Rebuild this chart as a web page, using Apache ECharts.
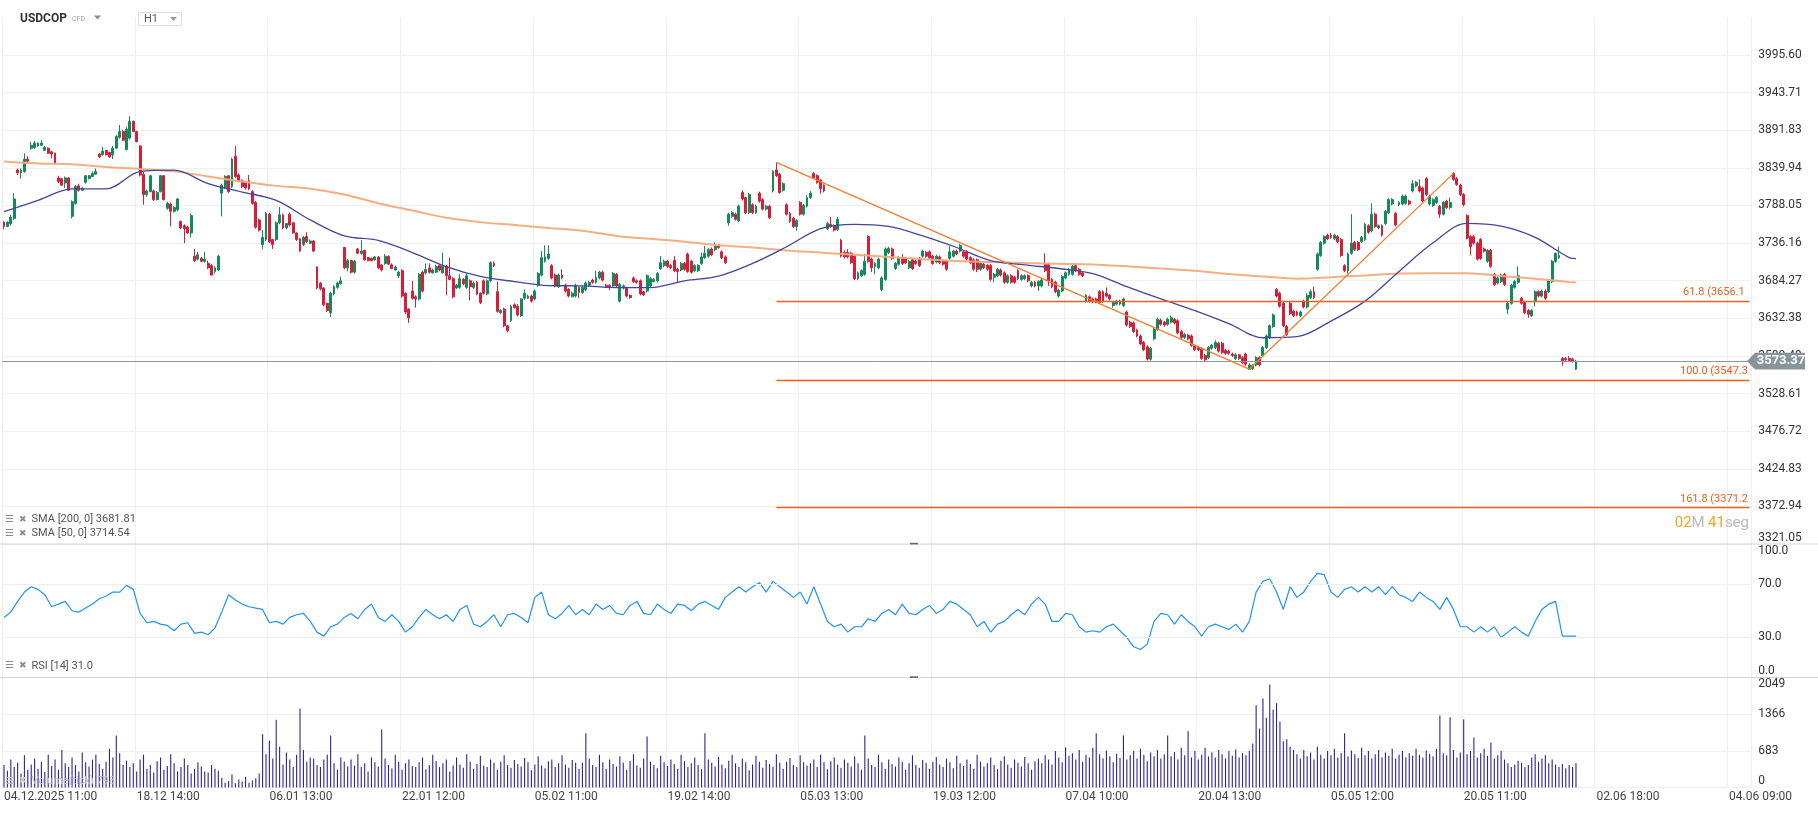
<!DOCTYPE html>
<html>
<head>
<meta charset="utf-8">
<script src="https://cdn.jsdelivr.net/npm/echarts@6/dist/echarts.min.js"></script>
<style>
  html, body { margin: 0; padding: 0; background: #fff; }
  #chart { width: 1818px; height: 813px; }
</style>
</head>
<body>
<div id="chart"></div>
<script>
// USDCOP CFD, H1 - candles with SMA 200 / SMA 50, fib drawing, RSI 14 and tick volume
const tickLabels = ['04.12.2025 11:00', '18.12 14:00', '06.01 13:00', '22.01 12:00', '05.02 11:00', '19.02 14:00',
  '05.03 13:00', '19.03 12:00', '07.04 10:00', '20.04 13:00', '05.05 12:00', '20.05 11:00', '02.06 18:00', '04.06 09:00'];
const priceTicks = ['3321.05', '3372.94', '3424.83', '3476.72', '3528.61', '3580.49', '3632.38', '3684.27',
  '3736.16', '3788.05', '3839.94', '3891.83', '3943.71', '3995.60'];

const open = [
  3765,3759,3763,3770,3837,3833,3835,3852,3867,3868, 3870,3871,3864,3867,3862,3860,3826,3825,3819,3826,
  3773,3791,3815,3809,3820,3825,3828,3831,3859,3858, 3864,3861,3858,3867,3882,3890,3865,3881,3904,3890,
  3870,3831,3803,3807,3808,3796,3807,3829,3784,3790, 3780,3782,3766,3760,3758,3750,3718,3714,3715,3711,
  3708,3705,3697,3699,3805,3813,3829,3814,3856,3830, 3822,3820,3822,3807,3792,3768,3734,3741,3776,3741,
  3741,3764,3775,3757,3776,3764,3750,3742,3734,3745, 3736,3739,3703,3681,3674,3653,3640,3666,3675,3680,
  3730,3702,3712,3696,3728,3722,3726,3716,3715,3713, 3717,3706,3708,3718,3706,3699,3691,3698,3667,3645,
  3670,3662,3659,3696,3695,3702,3695,3696,3705,3695, 3704,3691,3687,3674,3675,3686,3675,3684,3675,3682,
  3667,3684,3666,3684,3708,3669,3640,3645,3622,3629, 3651,3649,3636,3660,3660,3663,3659,3678,3692,3711,
  3715,3705,3692,3676,3692,3678,3672,3662,3663,3675, 3668,3672,3678,3685,3682,3688,3696,3678,3678,3677,
  3693,3656,3674,3674,3664,3688,3684,3684,3669,3670, 3677,3683,3684,3701,3705,3711,3705,3712,3700,3699,
  3708,3721,3711,3698,3698,3708,3716,3718,3728,3727, 3733,3724,3717,3764,3773,3776,3767,3806,3799,3778,
  3789,3778,3805,3796,3783,3787,3808,3837,3831,3809, 3789,3777,3770,3759,3792,3776,3787,3799,3832,3829,
  3823,3816,3756,3762,3760,3755,3740,3723,3723,3722, 3718,3687,3691,3693,3745,3714,3704,3702,3672,3686,
  3723,3728,3701,3707,3716,3715,3702,3713,3711,3715, 3718,3723,3724,3718,3710,3717,3711,3711,3715,3718,
  3725,3725,3724,3724,3716,3713,3713,3700,3707,3705, 3705,3689,3691,3699,3695,3682,3691,3689,3698,3686,
  3687,3691,3677,3682,3677,3677,3707,3707,3686,3682, 3663,3670,3688,3693,3693,3705,3700,3695,3656,3662,
  3659,3659,3669,3669,3667,3664,3650,3652,3656,3650, 3641,3627,3626,3616,3608,3599,3593,3576,3604,3617,
  3630,3627,3624,3627,3631,3629,3614,3606,3609,3608, 3594,3592,3590,3581,3578,3591,3592,3598,3598,3588,
  3587,3583,3577,3582,3578,3583,3562,3563,3568,3578, 3581,3592,3606,3621,3672,3667,3653,3621,3653,3642,
  3641,3636,3656,3648,3661,3669,3700,3719,3736,3747, 3747,3742,3745,3741,3705,3698,3722,3737,3737,3738,
  3741,3760,3753,3776,3757,3760,3763,3778,3790,3777, 3789,3790,3791,3794,3808,3815,3814,3812,3825,3790,
  3788,3792,3787,3776,3794,3785,3832,3825,3816,3803, 3774,3745,3745,3736,3741,3728,3711,3726,3693,3681,
  3683,3693,3645,3653,3675,3682,3660,3654,3643,3636, 3656,3669,3663,3670,3669,3683,3711,3716,3577,3577,
  3577,3576,3562
];
const high = [
  3766,3766,3775,3805,3839,3839,3860,3856,3876,3877, 3875,3878,3870,3868,3863,3861,3829,3826,3828,3827,
  3795,3816,3818,3813,3830,3830,3835,3839,3860,3869, 3865,3862,3870,3885,3899,3892,3896,3911,3905,3891,
  3871,3834,3810,3830,3810,3808,3830,3830,3793,3792, 3787,3798,3767,3762,3760,3777,3728,3724,3717,3724,
  3712,3707,3704,3720,3818,3830,3830,3854,3870,3832, 3824,3822,3830,3809,3794,3770,3754,3779,3778,3742,
  3766,3786,3777,3764,3778,3765,3751,3743,3746,3751, 3741,3740,3704,3682,3675,3654,3669,3678,3683,3690,
  3731,3714,3713,3713,3729,3740,3727,3717,3716,3718, 3718,3707,3721,3719,3708,3705,3698,3700,3668,3646,
  3684,3664,3695,3698,3708,3708,3701,3706,3707,3723, 3706,3716,3689,3680,3693,3688,3695,3686,3683,3684,
  3668,3686,3686,3711,3711,3683,3645,3647,3623,3651, 3653,3652,3660,3672,3665,3665,3672,3696,3725,3733,
  3733,3707,3694,3694,3700,3680,3674,3669,3680,3676, 3677,3683,3684,3687,3698,3698,3698,3680,3679,3696,
  3695,3681,3679,3676,3665,3690,3686,3686,3670,3693, 3689,3688,3696,3718,3713,3713,3707,3718,3702,3710,
  3710,3723,3713,3707,3707,3723,3732,3729,3730,3737, 3735,3726,3719,3778,3780,3778,3789,3809,3800,3805,
  3791,3789,3807,3798,3789,3789,3837,3847,3833,3820, 3791,3779,3772,3769,3794,3790,3802,3808,3834,3831,
  3825,3817,3765,3772,3762,3772,3742,3726,3728,3724, 3720,3697,3700,3721,3747,3716,3710,3716,3690,3730,
  3731,3730,3710,3718,3721,3717,3713,3715,3713,3717, 3727,3725,3726,3720,3720,3719,3713,3713,3732,3727,
  3727,3735,3726,3726,3718,3715,3715,3710,3709,3707, 3707,3695,3702,3701,3697,3693,3693,3691,3700,3693,
  3693,3693,3684,3684,3685,3687,3722,3709,3688,3684, 3673,3692,3697,3702,3706,3708,3702,3697,3666,3664,
  3661,3661,3671,3671,3675,3666,3656,3658,3658,3661, 3643,3629,3628,3618,3610,3601,3595,3593,3619,3633,
  3632,3629,3633,3636,3633,3631,3616,3612,3611,3610, 3596,3594,3592,3583,3594,3597,3602,3600,3600,3590,
  3589,3585,3584,3583,3580,3585,3570,3569,3580,3580, 3594,3610,3624,3639,3674,3669,3655,3623,3655,3644,
  3643,3643,3658,3667,3672,3676,3723,3739,3747,3749, 3750,3749,3747,3743,3707,3723,3776,3739,3739,3746,
  3764,3762,3791,3778,3762,3762,3782,3798,3798,3779, 3794,3803,3803,3796,3823,3822,3824,3814,3827,3803,
  3798,3801,3789,3794,3796,3799,3834,3827,3818,3805, 3776,3747,3747,3738,3743,3730,3728,3728,3695,3690,
  3694,3695,3655,3680,3685,3704,3662,3656,3645,3645, 3671,3671,3672,3672,3686,3713,3723,3731,3579,3579,
  3580,3578,3575
];
const low = [
  3755,3758,3760,3768,3830,3825,3833,3848,3865,3866, 3869,3870,3863,3859,3853,3845,3819,3815,3812,3808,
  3770,3789,3807,3808,3818,3824,3827,3830,3853,3857, 3857,3854,3852,3866,3880,3877,3864,3879,3889,3875,
  3828,3789,3800,3806,3794,3795,3806,3795,3782,3759, 3778,3780,3755,3736,3749,3744,3710,3712,3710,3709,
  3700,3691,3694,3698,3773,3811,3805,3812,3826,3820, 3812,3810,3809,3789,3756,3752,3728,3739,3736,3728,
  3739,3762,3755,3755,3759,3749,3739,3724,3732,3736, 3735,3724,3672,3671,3649,3641,3634,3664,3673,3679,
  3700,3697,3694,3694,3721,3720,3712,3711,3711,3712, 3700,3697,3706,3706,3700,3698,3688,3661,3638,3626,
  3658,3647,3657,3668,3693,3694,3694,3695,3697,3694, 3664,3685,3660,3673,3673,3678,3673,3657,3673,3664,
  3652,3665,3664,3682,3703,3640,3638,3620,3613,3627, 3646,3635,3634,3658,3659,3654,3657,3676,3690,3709,
  3713,3686,3675,3674,3686,3668,3661,3661,3661,3660, 3666,3670,3676,3680,3680,3686,3683,3674,3671,3675,
  3675,3654,3672,3661,3659,3681,3680,3664,3663,3668, 3675,3682,3682,3699,3703,3702,3700,3696,3681,3697,
  3698,3695,3694,3696,3696,3706,3714,3716,3718,3725, 3728,3714,3707,3760,3771,3767,3765,3795,3776,3776,
  3776,3776,3792,3781,3781,3769,3806,3827,3804,3807, 3774,3764,3757,3753,3774,3774,3785,3797,3825,3818,
  3804,3806,3754,3757,3752,3753,3716,3715,3715,3707, 3685,3685,3689,3691,3709,3696,3693,3700,3670,3684,
  3721,3713,3699,3705,3706,3707,3700,3699,3706,3703, 3716,3716,3714,3706,3708,3707,3705,3698,3713,3716,
  3719,3723,3716,3712,3707,3698,3696,3698,3700,3698, 3684,3682,3689,3690,3680,3680,3680,3680,3685,3684,
  3685,3682,3675,3675,3670,3675,3696,3677,3674,3667, 3661,3668,3686,3691,3691,3696,3691,3689,3654,3654,
  3653,3653,3652,3654,3661,3657,3647,3650,3650,3648, 3621,3619,3612,3606,3595,3587,3574,3574,3602,3615,
  3622,3621,3622,3625,3624,3610,3604,3604,3602,3593, 3587,3587,3575,3573,3576,3589,3590,3585,3583,3582,
  3582,3579,3575,3575,3569,3567,3561,3561,3566,3566, 3579,3590,3604,3619,3661,3647,3620,3608,3637,3634,
  3635,3634,3646,3646,3659,3659,3698,3717,3734,3740, 3742,3740,3736,3717,3696,3694,3720,3725,3725,3736,
  3739,3749,3751,3757,3755,3745,3761,3776,3788,3759, 3787,3788,3789,3788,3806,3813,3806,3792,3801,3788,
  3786,3790,3771,3774,3783,3783,3822,3815,3801,3787, 3741,3719,3734,3712,3713,3723,3709,3702,3677,3679,
  3681,3677,3638,3651,3673,3680,3651,3638,3633,3634, 3649,3661,3661,3658,3667,3681,3709,3714,3567,3573,
  3572,3571,3561
];
const close = [
  3759,3765,3772,3797,3833,3837,3852,3849,3871,3874, 3874,3874,3868,3860,3859,3846,3821,3816,3826,3809,
  3793,3814,3809,3812,3829,3829,3832,3835,3855,3863, 3858,3855,3867,3883,3890,3878,3893,3904,3890,3876,
  3830,3803,3808,3829,3796,3806,3829,3796,3791,3780, 3785,3797,3757,3756,3750,3774,3712,3720,3711,3714,
  3702,3692,3702,3718,3816,3828,3807,3852,3828,3822, 3814,3812,3811,3791,3758,3754,3744,3777,3738,3734,
  3764,3775,3757,3763,3761,3750,3741,3725,3744,3738, 3739,3725,3674,3673,3651,3643,3667,3676,3681,3684,
  3702,3712,3696,3711,3722,3725,3713,3712,3712,3717, 3702,3699,3718,3707,3701,3703,3696,3663,3641,3633,
  3660,3659,3693,3670,3700,3696,3699,3704,3699,3704, 3691,3686,3662,3678,3687,3680,3691,3676,3681,3666,
  3654,3667,3684,3709,3705,3642,3643,3622,3615,3649, 3647,3637,3659,3667,3663,3656,3670,3694,3716,3717,
  3721,3688,3677,3692,3688,3670,3663,3667,3678,3668, 3675,3681,3682,3682,3689,3696,3685,3676,3676,3694,
  3677,3679,3677,3663,3661,3683,3682,3666,3665,3691, 3687,3686,3694,3709,3711,3704,3702,3698,3697,3708,
  3700,3697,3696,3705,3705,3717,3722,3727,3720,3732, 3730,3716,3709,3776,3778,3769,3787,3797,3778,3803,
  3778,3787,3794,3783,3787,3771,3835,3829,3806,3818, 3776,3766,3759,3767,3776,3788,3799,3805,3826,3820,
  3811,3808,3763,3759,3754,3769,3718,3717,3717,3709, 3687,3695,3698,3711,3711,3702,3708,3714,3688,3728,
  3729,3715,3708,3716,3708,3709,3711,3701,3708,3705, 3725,3718,3716,3708,3718,3709,3707,3700,3724,3725,
  3721,3733,3718,3714,3709,3700,3700,3708,3702,3700, 3686,3693,3700,3692,3682,3691,3682,3682,3687,3691,
  3691,3684,3682,3677,3683,3685,3698,3684,3676,3669, 3671,3690,3695,3700,3704,3698,3693,3691,3664,3656,
  3655,3655,3654,3656,3663,3659,3654,3656,3652,3659, 3623,3621,3614,3608,3597,3589,3576,3591,3617,3631,
  3624,3623,3631,3633,3626,3612,3606,3610,3604,3595, 3589,3589,3577,3575,3592,3595,3599,3587,3585,3584,
  3584,3581,3582,3577,3571,3569,3568,3567,3578,3568, 3592,3608,3622,3637,3663,3649,3622,3610,3639,3636,
  3637,3641,3648,3664,3669,3661,3721,3737,3745,3742, 3744,3747,3738,3719,3698,3721,3736,3727,3727,3744,
  3762,3751,3776,3759,3760,3747,3780,3796,3796,3761, 3792,3801,3801,3790,3818,3820,3808,3794,3803,3801,
  3796,3799,3776,3792,3785,3792,3824,3817,3803,3789, 3743,3731,3736,3714,3715,3725,3726,3704,3679,3688,
  3692,3679,3653,3678,3683,3691,3653,3640,3638,3643, 3669,3663,3670,3660,3684,3711,3722,3719,3574,3575,
  3574,3573,3573.37
];
const volume = [
  420,310,520,380,460,260,600,330,430,540, 350,480,290,610,400,520,330,700,450,380,
  560,420,300,650,470,390,520,610,440,350, 480,720,560,970,640,420,500,
  380,450,300,520,610,350,420,280,490,560, 330,400,620,450,300,380,540,420,260,350,
  470,390,300,280,420,350,310,
  180,90,120,240,80,150,110,200,90,130,170,260,
  990,620,870,540,1260,760,430,650,520,380,610,1470,700,480,560,540,
  420,380,520,610,970,450,330,560,480,390, 520,410,620,380,450,300,560,470,390,1080,
  540,420,360,610,480,330,450,520,400,380, 470,560,340,420,610,490,380,450,520,300,
  410,560,430,370,620,480,350,440,590,410, 380,520,460,330,480,600,420,370,510,440,
  390,550,470,320,430,580,410,360,490,520, 380,450,600,430,370,510,460,350,
  460,1010,540,420,380,610,470,350,520,440, 390,580,460,330,500,620,410,370,540,950,
  480,420,360,590,470,400,520,440,350,610, 490,380,450,560,420,340,1010,520,460,390,
  570,430,360,500,610,450,380,540,470,320, 430,590,480,370,510,440,390,620,460,350,
  480,550,420,380,600,470,410,
  450,520,380,610,470,340,490,560,430,370, 520,460,390,580,450,330,970,540,420,380,
  610,470,350,520,440,390,560,480,330,450, 600,420,370,510,460,350,480,570,430,380,
  540,470,360,590,450,400,520,440,350,610, 480,390,450,560,420,340,500,580,430,370,
  520,460,390,570,450,330,490,540,
  450,600,520,430,680,560,470,750,590,640, 520,700,480,610,560,740,1010,620,540,690,
  580,470,630,550,970,520,600,680,540,720, 610,490,650,580,700,540,620,970,580,660,
  520,740,600,1050,560,680,520,610,740,580, 650,560,700,620,540,680,590,710,560,640,
  600,680,
  820,1530,1100,1660,1300,1920,1450,1570,1230,860,900,760,700,
  620,540,700,580,650,520,760,610,540,680, 600,720,560,640,1010,580,690,620,550,740,
  600,680,540,620,700,560,650,590,720,540, 610,680,560,640,590,720,610,560,690,630,
  580,720,1340,640,600,1310,700,560,650,1270, 620,680,930,560,640,720,590,840,540,600,
  680,520,450,380,430,500,460,380,420,560, 620,480,540,600,450,520,430,380,440,360,
  420,380,450
];
// RSI 14, read once every 2 bars
const rsi = [
  45,49,57,64,68,66,62,53,55,57, 50,49,52,55,59,61,64,64,69,66, 48,41,42,40,39,35,40,41,33,34,
  32,37,49,62,58,55,53,52,51,41, 42,40,45,47,48,42,34,31,38,40, 45,48,44,51,55,45,42,47,42,34,
  38,45,51,47,44,47,42,51,54,40, 38,42,47,38,47,48,45,41,60,64, 47,44,48,54,47,51,47,55,51,54,
  48,47,54,57,48,47,55,51,48,55, 54,50,55,57,54,51,60,64,68,64, 68,71,64,72,68,64,60,64,55,68,
  55,42,38,40,34,38,38,44,42,48, 51,47,55,48,47,51,54,48,51,57, 55,51,47,38,42,34,40,42,47,51,
  47,55,60,55,42,42,48,47,38,34, 35,34,38,40,35,30,23,21,25,42, 48,47,40,47,42,38,31,38,40,38,
  36,40,34,42,64,72,74,64,51,68, 60,64,72,78,77,64,60,66,68,64, 68,64,68,62,68,62,60,57,64,60,
  57,51,60,51,38,38,34,38,34,38, 30,34,38,34,31,42,51,55,57,31, 31,31
];
// moving averages read every 10 bars
const smaBars = [0,10,20,30,40,50,60,70,80,90,100,110,120,130,140,150,160,170,180,190,200,210,220,230,
  240,250,260,270,280,290,300,310,320,330,340,350,360,370,380,390,400,410,420,430,440,450,460,462];
const sma200 = [3848.5,3846,3845,3841,3838.4,3835,3828,3821,3815,3811,3803,3791,3781,3771,3765,3761,3757,3753,
  3746,3742,3738,3733,3730,3726,3723,3720,3717,3714,3711.5,3710,3708.5,3707.5,3706.6,3704,3701,3698,3693.5,
  3690,3687,3689,3691.5,3694,3694.5,3694.5,3690.7,3687,3682.5,3681.81];
const sma50 = [3779.6,3795,3811,3811,3834.7,3836.7,3818,3806.5,3795,3768,3746,3739.7,3723,3703.5,3690,3683,
  3677.5,3677,3674.7,3674.7,3684,3690.5,3708,3731,3756,3762,3759,3746,3730,3712,3706,3701,3694,3676,3659,3643,
  3625,3605.5,3607,3628.5,3656,3697,3736.5,3763.3,3759.4,3744,3716,3714.54];

// fib extension drawing: A -> B, projected from C
const fibA = [227, 3847.3];
const fibB = [366, 3562.3];
const fibC = [426, 3832.27];
const fibLevels = ['61.8', '100.0', '161.8'];
const fibPrices = [3656.16, 3547.33, 3371.26];
const lastPrice = 3573.37;

const nCats = 514;
const perLabel = 39;
const cats = Array.from({ length: nCats }, (_, i) => String(i));

const FONT = 'Roboto';
const GL = 2.3, GW = 1748.9;

function xAxisFor(gridIndex, withLabels) {
  return {
    type: 'category', gridIndex: gridIndex, data: cats, boundaryGap: true,
    axisLine: { show: false }, axisTick: { show: false },
    axisLabel: {
      show: withLabels, interval: i => i % perLabel === 0,
      formatter: (v, i) => tickLabels[i / perLabel] || '',
      align: 'left', margin: 3, color: '#444', fontSize: 12, fontFamily: FONT
    },
    splitLine: { show: true, interval: i => i % perLabel === 0, lineStyle: { color: '#efefef', width: 1 } }
  };
}

const yLabelBase = { margin: 7, color: '#333', fontSize: 12, fontFamily: FONT };

const option = {
  animation: false,
  backgroundColor: '#fff',
  textStyle: { fontFamily: FONT },
  grid: [
    { left: GL, width: GW, top: 17.4, height: 526.6 },
    { left: GL, width: GW, top: 544, height: 133.5 },
    { left: GL, width: GW, top: 677.5, height: 110 }
  ],
  xAxis: [xAxisFor(0, false), xAxisFor(1, false), xAxisFor(2, true)],
  yAxis: [
    {
      type: 'value', gridIndex: 0, position: 'right', min: 3320.96, max: 4047.42, interval: 51.89,
      axisLine: { show: false }, axisTick: { show: false },
      splitLine: { lineStyle: { color: '#f0f0f0' }, showMaxLine: false },
      axisLabel: Object.assign({}, yLabelBase, {
        lineHeight: 12,
        formatter: v => {
          const k = Math.round((v - 3320.96) / 51.89);
          if (k === 0) return priceTicks[0] + '\n ';
          return priceTicks[k] || '';
        }
      })
    },
    {
      type: 'value', gridIndex: 1, position: 'right', min: 0, max: 100, interval: 10,
      axisLine: { show: false }, axisTick: { show: false }, splitLine: { show: false },
      axisLabel: Object.assign({}, yLabelBase, {
        lineHeight: 13,
        formatter: v => v === 100 ? ' \n100.0' : v === 70 ? '70.0' : v === 30 ? '30.0' : v === 0 ? '0.0\n ' : ''
      })
    },
    {
      type: 'value', gridIndex: 2, position: 'right', min: 0, max: 2049, interval: 683,
      axisLine: { show: false }, axisTick: { show: false },
      splitLine: { lineStyle: { color: '#f0f0f0' }, showMaxLine: false },
      axisLabel: Object.assign({}, yLabelBase, {
        lineHeight: 13,
        formatter: v => v === 2049 ? ' \n2049' : v === 0 ? '0\n ' : String(v)
      })
    }
  ],
  series: [
    {
      name: 'USDCOP', type: 'candlestick', xAxisIndex: 0, yAxisIndex: 0,
      data: open.map((o, i) => [o, close[i], low[i], high[i]]),
      barWidth: 2.4,
      itemStyle: { color: '#14895b', color0: '#d51f39', borderColor: '#14895b', borderColor0: '#d51f39', borderWidth: 1 },
      markLine: {
        silent: true, symbol: ['none', 'none'], label: { show: false }, animation: false,
        data: [
          { yAxis: lastPrice, lineStyle: { color: '#8e999f', width: 1, type: 'solid' } },
          ...fibPrices.map(p => [
            { coord: [fibA[0], p], lineStyle: { color: '#e9611e', width: 1.3, type: 'solid' } },
            { coord: [nCats - 1, p] }
          ]),
          [{ coord: fibA, lineStyle: { color: '#f47c2f', width: 1.3, type: 'solid' } }, { coord: fibB }],
          [{ coord: fibB, lineStyle: { color: '#f47c2f', width: 1.3, type: 'solid' } }, { coord: fibC }]
        ]
      }
    },
    {
      name: 'SMA 200', type: 'line', xAxisIndex: 0, yAxisIndex: 0, showSymbol: false, smooth: 0.35,
      data: sma200.map((v, k) => [smaBars[k], v]),
      lineStyle: { color: '#f4a97d', width: 2, opacity: 0.95 }, z: 3
    },
    {
      name: 'SMA 50', type: 'line', xAxisIndex: 0, yAxisIndex: 0, showSymbol: false, smooth: 0.35,
      data: sma50.map((v, k) => [smaBars[k], v]),
      lineStyle: { color: '#45459a', width: 1.3 }, z: 3
    },
    {
      name: 'RSI', type: 'line', xAxisIndex: 1, yAxisIndex: 1, showSymbol: false,
      data: rsi.map((v, k) => [k * 2, v]),
      lineStyle: { color: '#2094f0', width: 1.2 },
      markLine: {
        silent: true, symbol: ['none', 'none'], label: { show: false }, animation: false,
        lineStyle: { color: '#eeeeee', width: 1, type: 'solid' },
        data: [{ yAxis: 70 }, { yAxis: 30 }]
      }
    },
    {
      name: 'Volume', type: 'bar', xAxisIndex: 2, yAxisIndex: 2,
      data: volume, barWidth: 1.1,
      itemStyle: { color: '#2e2295' }
    }
  ]
};

const chart = echarts.init(document.getElementById('chart'));
chart.setOption(option);

const yOf = v => chart.convertToPixel({ yAxisIndex: 0 }, v);
const py = yOf(lastPrice);
const small = (txt, x, y, extra, z) => ({
  type: 'text', x: x, y: y, z: z || 60,
  style: Object.assign({ text: txt, fill: '#555', font: '11px Roboto', verticalAlign: 'middle' }, extra || {})
});
const icons = (y, c) => [
  small('\u2630', 5, y, { fill: c || '#8c8c8c', font: '10px "DejaVu Sans"' }),
  small('\u2716', 19, y, { fill: c || '#8c8c8c', font: '9px "DejaVu Sans"' })
];

const graphic = [
  // pane separators and their drag handles
  { type: 'line', z: 40, shape: { x1: 0, y1: 544, x2: 1818, y2: 544 }, style: { stroke: '#d4d4d4', lineWidth: 1 } },
  { type: 'line', z: 40, shape: { x1: 0, y1: 677.5, x2: 1818, y2: 677.5 }, style: { stroke: '#d4d4d4', lineWidth: 1 } },
  { type: 'rect', z: 41, shape: { x: 910, y: 542.8, width: 8, height: 1.6 }, style: { fill: '#666' } },
  { type: 'rect', z: 41, shape: { x: 910, y: 676.3, width: 8, height: 1.6 }, style: { fill: '#666' } },
  // header
  small('USDCOP', 20, 18.5, { fill: '#333', font: 'bold 12px Roboto' }),
  small('CFD', 72, 19.5, { fill: '#999', font: '7px Roboto' }),
  { type: 'polygon', z: 60, shape: { points: [[94, 15.5], [101, 15.5], [97.5, 19.5]] }, style: { fill: '#8a8a8a' } },
  { type: 'rect', z: 60, shape: { x: 138.5, y: 12.5, width: 43, height: 13 }, style: { fill: '#fff', stroke: '#dddddd', lineWidth: 1 } },
  small('H1', 144, 19, { fill: '#555', font: '11px Roboto' }, 61),
  { type: 'polygon', z: 61, shape: { points: [[170, 17], [177, 17], [173.5, 21]] }, style: { fill: '#9a9a9a' } },
  // indicator legends
  ...icons(519.5), small('SMA [200, 0] 3681.81', 31.5, 519.5),
  ...icons(533.5), small('SMA [50, 0] 3714.54', 31.5, 533.5),
  ...icons(665.8), small('RSI [14] 31.0', 31.5, 665.8),
  ...icons(781, '#c8c8c8'), small('Volume(tick) 798', 31.5, 781, { fill: '#c4c4c4' }),
  // countdown
  {
    type: 'text', x: 1749, y: 523, z: 60,
    style: {
      text: '{o|02}{g|M} {o|41}{g|seg}', align: 'right', verticalAlign: 'middle',
      rich: { o: { fill: '#f5a524', font: '15px Roboto' }, g: { fill: '#b9b9b9', font: '15px Roboto' } }
    }
  },
  // last price tag
  {
    type: 'polygon', z: 70,
    shape: { points: [[1747, py], [1755, py - 8.4], [1805, py - 8.4], [1805, py + 8.4], [1755, py + 8.4]] },
    style: { fill: '#88949a' }
  },
  small(lastPrice.toFixed(2), 1781, py, { fill: '#fff', font: 'bold 13px Roboto', align: 'center' }, 71)
];
// fib level captions, clipped at the plot edge like the original
const fibLeft = [1683, 1680, 1680];
fibPrices.forEach((p, k) => {
  const yl = yOf(p);
  graphic.push({
    type: 'text', x: fibLeft[k], y: yl - 8.5, z: 60,
    style: {
      text: fibLevels[k] + ' (' + p.toFixed(2) + ')', fill: '#e9611e', font: '11px Roboto',
      verticalAlign: 'middle', width: 1750.5 - fibLeft[k], overflow: 'truncate', ellipsis: ''
    }
  });
});
chart.setOption({ graphic: graphic });
</script>
</body>
</html>
